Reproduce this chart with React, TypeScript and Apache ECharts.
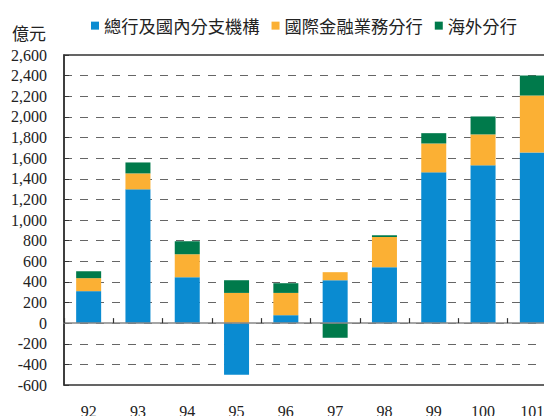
import React, { useEffect, useRef } from "react";
import * as echarts from "echarts";

const years = ["92", "93", "94", "95", "96", "97", "98", "99", "100", "101"];
const domestic = [310, 1297, 445, -500, 77, 416, 542, 1462, 1530, 1655];
const offshore = [126, 155, 223, 293, 216, 78, 293, 280, 300, 552];
const overseas = [67, 106, 126, 123, 94, -142, 17, 100, 174, 194];
const seriesNames = ["總行及國內分支機構", "國際金融業務分行", "海外分行"];
const colors = ["#0A8BD1", "#FBB034", "#007A4B"];

export default function App() {
  const ref = useRef<HTMLDivElement>(null);
  useEffect(() => {
    if (!ref.current) return;
    const chart = echarts.init(ref.current, undefined, { renderer: "svg" });
    const serif = "Liberation Serif";
    const cjk = "Noto Sans CJK TC";
    const mk = (name: string, data: number[], color: string) => ({
      name,
      type: "bar",
      stack: "total",
      data,
      barWidth: 25,
      itemStyle: { color },
      z: 2,
    });
    chart.setOption({
      animation: false,
      backgroundColor: "#ffffff",
      legend: {
        left: 86,
        top: 12,
        itemWidth: 8,
        itemHeight: 8,
        itemGap: 12,
        icon: "rect",
        textStyle: { fontFamily: cjk, fontSize: 17.3, color: "#222" },
        data: seriesNames,
      },
      graphic: [
        {
          type: "text",
          left: 12,
          top: 24,
          style: { text: "億元", fontFamily: cjk, fontSize: 17, fill: "#222" },
        },
      ],
      grid: {
        left: 64,
        right: 43,
        top: 55,
        bottom: 31,
        outerBoundsMode: "none",
        containLabel: false,
        show: true,
        borderColor: "#333",
        borderWidth: 1.5,
        backgroundColor: "transparent",
      },
      xAxis: [
        {
          type: "category",
          data: years,
          position: "bottom",
          axisLine: { show: false, onZero: false },
          axisTick: { show: false },
          axisLabel: {
            margin: 18,
            fontFamily: serif,
            fontSize: 16,
            color: "#222",
          },
        },
        {
          type: "category",
          data: years,
          position: "bottom",
          axisLine: { show: true, onZero: true, lineStyle: { color: "#888", width: 1.5 } },
          axisTick: { show: true, inside: true, length: 5, lineStyle: { color: "#333", width: 1.2 } },
          axisLabel: { show: false },
          splitLine: { show: false },
          z: 5,
        },
      ],
      yAxis: {
        type: "value",
        min: -600,
        max: 2600,
        interval: 200,
        axisLine: { show: true, lineStyle: { color: "#333", width: 1.5 } },
        axisTick: { show: true, inside: true, length: 5, lineStyle: { color: "#333" } },
        axisLabel: { margin: 17, fontFamily: serif, fontSize: 16, color: "#222" },
        splitLine: {
          show: true,
          lineStyle: { type: [8, 8], color: "#666", width: 1 },
        },
      },
      series: [
        mk(seriesNames[0], domestic, colors[0]),
        mk(seriesNames[1], offshore, colors[1]),
        mk(seriesNames[2], overseas, colors[2]),
      ],
    });
    return () => chart.dispose();
  }, []);
  return (
    <div
      style={{
        position: "fixed",
        left: 0,
        top: 0,
        width: 544,
        height: 416,
        overflow: "hidden",
        background: "#fff",
      }}
    >
      <div ref={ref} style={{ width: 600, height: 416 }} />
    </div>
  );
}
